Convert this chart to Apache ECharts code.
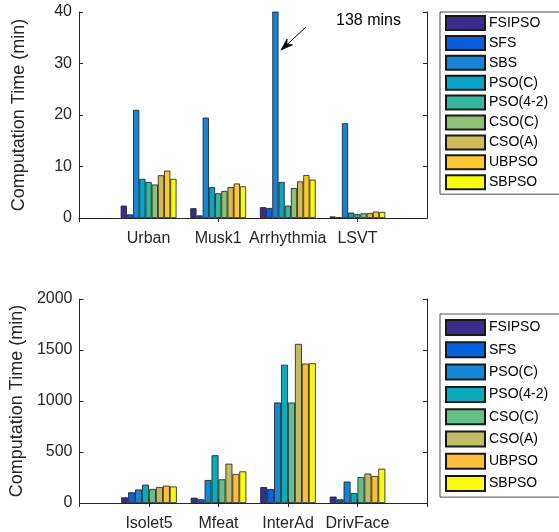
<!DOCTYPE html>
<html>
<head>
<meta charset="utf-8">
<script src="https://cdn.jsdelivr.net/npm/echarts@6/dist/echarts.min.js"></script>
<style>html,body{margin:0;padding:0;background:#fff;}#c{width:559px;height:532px;}</style>
</head>
<body>
<div id="c"></div>
<script>
// ---- Top chart data ----
var topCategories = ['Urban', 'Musk1', 'Arrhythmia', 'LSVT'];
var topSeriesNames = ['FSIPSO', 'SFS', 'SBS', 'PSO(C)', 'PSO(4-2)', 'CSO(C)', 'CSO(A)', 'UBPSO', 'SBPSO'];
var topFSIPSO = [2.4, 1.9, 2.1, 0.3];
var topSFS = [0.7, 0.5, 1.95, 0.1];
var topSBS = [21.0, 19.5, 138, 18.4];
var topPSOC = [7.6, 6.0, 7.0, 1.05];
var topPSO42 = [7.0, 4.8, 2.4, 0.72];
var topCSOC = [6.5, 5.25, 5.8, 0.9];
var topCSOA = [8.3, 6.0, 7.1, 0.97];
var topUBPSO = [9.2, 6.7, 8.35, 1.24];
var topSBPSO = [7.6, 6.15, 7.45, 1.17];
var topColors = ['#382d8a', '#0b5ddf', '#1683d5', '#08a5c8', '#33b89f', '#8dbf74', '#d3ba58', '#fdc830', '#f8fa0f'];
var topYTicks = [0, 10, 20, 30, 40];

// ---- Bottom chart data ----
var botCategories = ['Isolet5', 'Mfeat', 'InterAd', 'DrivFace'];
var botSeriesNames = ['FSIPSO', 'SFS', 'PSO(C)', 'PSO(4-2)', 'CSO(C)', 'CSO(A)', 'UBPSO', 'SBPSO'];
var botFSIPSO = [55, 52, 156, 63];
var botSFS = [105, 36, 137, 36];
var botPSOC = [132, 225, 985, 210];
var botPSO42 = [180, 468, 1355, 97];
var botCSOC = [138, 232, 985, 255];
var botCSOA = [157, 385, 1560, 288];
var botUBPSO = [170, 285, 1367, 265];
var botSBPSO = [162, 310, 1370, 336];
var botColors = ['#382d8a', '#0563e0', '#1586d3', '#0daab9', '#65bf88', '#c0bc64', '#fdbd3c', '#f8fa0f'];
var botYTicks = [0, 500, 1000, 1500, 2000];

var topValues = [topFSIPSO, topSFS, topSBS, topPSOC, topPSO42, topCSOC, topCSOA, topUBPSO, topSBPSO];
var botValues = [botFSIPSO, botSFS, botPSOC, botPSO42, botCSOC, botCSOA, botUBPSO, botSBPSO];

var FONT = '"Liberation Sans", Arial, Helvetica, sans-serif';
var TXT = '#262626';
var AX = '#262626';

function pad(arr) { return [''].concat(arr).concat(['']); }
function padVals(arr) { return [null].concat(arr).concat([null]); }

function xAxisPair(cats, gridIndex) {
  var base = {
    type: 'category', gridIndex: gridIndex, data: pad(cats), boundaryGap: false,
    axisLine: { show: true, lineStyle: { color: AX, width: 1 } },
    axisTick: { show: true, inside: true, length: 4, lineStyle: { color: AX } },
    splitLine: { show: false }
  };
  var bottom = Object.assign({}, base, {
    position: 'bottom',
    axisLabel: { show: true, interval: 0, color: TXT, fontFamily: FONT, fontSize: 16, margin: 13 }
  });
  var top = Object.assign({}, base, { position: 'top', axisLabel: { show: false } });
  return [bottom, top];
}

function yAxisPair(ticks, gridIndex) {
  var base = {
    type: 'value', gridIndex: gridIndex, min: ticks[0], max: ticks[ticks.length - 1],
    interval: ticks[1] - ticks[0],
    axisLine: { show: true, lineStyle: { color: AX, width: 1 } },
    axisTick: { show: true, inside: true, length: 4, lineStyle: { color: AX } },
    splitLine: { show: false }
  };
  var left = Object.assign({}, base, {
    position: 'left',
    name: 'Computation Time (min)', nameLocation: 'middle', nameGap: 51,
    nameTextStyle: { color: TXT, fontFamily: FONT, fontSize: 18 },
    axisLabel: { show: true, color: TXT, fontFamily: FONT, fontSize: 16, margin: 7,
      formatter: function (v) { return String(v); } }
  });
  var right = Object.assign({}, base, { position: 'right', axisLabel: { show: false } });
  return [left, right];
}

var series = [];
topSeriesNames.forEach(function (n, i) {
  series.push({
    type: 'bar', name: n, xAxisIndex: 0, yAxisIndex: 0, data: padVals(topValues[i]),
    barWidth: 6.2, barGap: '0%', clip: true,
    itemStyle: { color: topColors[i], borderColor: '#1a1a1a', borderWidth: 0.8 }
  });
});
botSeriesNames.forEach(function (n, i) {
  series.push({
    type: 'bar', name: 'b:' + n, xAxisIndex: 2, yAxisIndex: 2, data: padVals(botValues[i]),
    barWidth: 6.95, barGap: '0%', clip: true,
    itemStyle: { color: botColors[i], borderColor: '#1a1a1a', borderWidth: 0.8 }
  });
});

var xa = xAxisPair(topCategories, 0).concat(xAxisPair(botCategories, 1));
var ya = yAxisPair(topYTicks, 0).concat(yAxisPair(botYTicks, 1));

var legendCommon = {
  orient: 'vertical', left: 440, itemWidth: 39, itemHeight: 14, itemGap: 3.9,
  borderColor: '#222', borderWidth: 0.8, padding: [3, 16, 4, 5],
  backgroundColor: '#fff', selectedMode: false,
  textStyle: { color: '#000', fontFamily: FONT, fontSize: 14, lineHeight: 16, padding: [0, 0, 0, -1] },
  icon: 'rect'
};

var option = {
  animation: false,
  backgroundColor: '#fff',
  grid: [
    { left: 79, top: 12, width: 348, height: 206 },
    { left: 79, top: 299, width: 348, height: 205 }
  ],
  xAxis: xa,
  yAxis: ya,
  legend: [
    Object.assign({}, legendCommon, { top: 12, data: topSeriesNames }),
    Object.assign({}, legendCommon, { top: 314, itemHeight: 15, itemGap: 5.3, padding: [5, 16, 5, 5],
      data: botSeriesNames.map(function (n) { return 'b:' + n; }),
      formatter: function (name) { return name.replace(/^b:/, ''); } })
  ],
  series: series,
  graphic: [
    { type: 'text', left: 336, top: 13, style: { text: '138 mins', fill: '#000', font: '16px ' + FONT } },
    { type: 'line', shape: { x1: 306, y1: 27, x2: 287, y2: 44.6 }, style: { stroke: '#000', lineWidth: 1 } },
    { type: 'polygon', shape: { points: [[281, 50], [287.1, 39.0], [286.9, 44.6], [292.5, 44.8]] },
      style: { fill: '#000', stroke: '#000', lineWidth: 0.8 } }
  ]
};

var chart = echarts.init(document.getElementById('c'), null, { renderer: 'canvas' });
chart.setOption(option);
</script>
</body>
</html>
